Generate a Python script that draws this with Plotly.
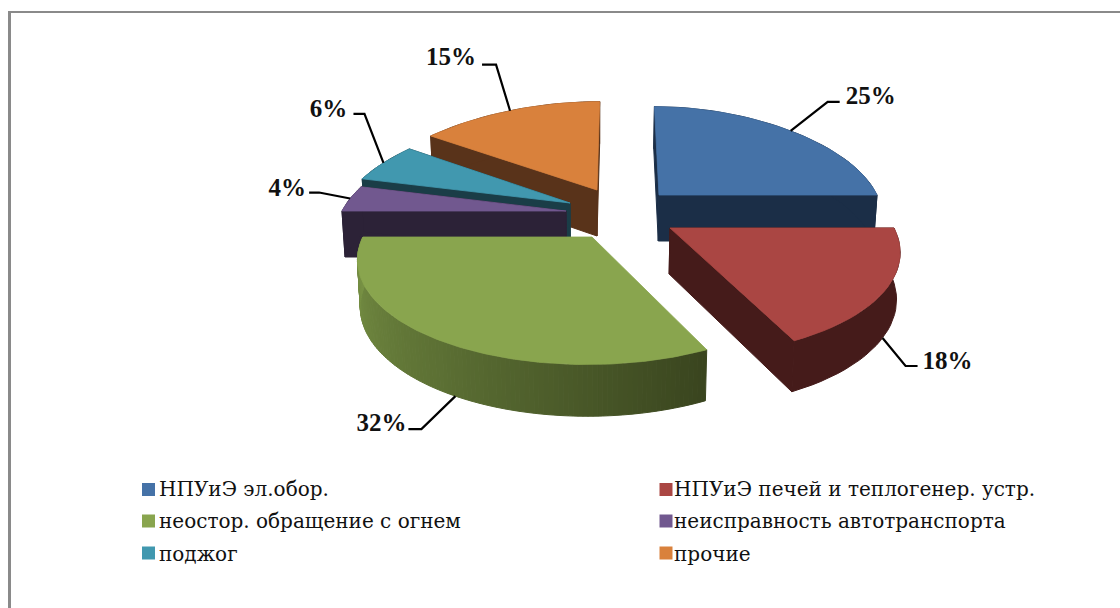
import math
import plotly.graph_objects as go

# ---- data ----
CATEGORIES = ["НПУиЭ эл.обор.", "НПУиЭ печей и теплогенер. устр.",
              "неостор. обращение с огнем", "неисправность автотранспорта",
              "поджог", "прочие"]
SHARES = [25, 18, 32, 4, 6, 15]

# ---- style ----
TOP_COLORS = ["#4572a7", "#aa4643", "#89a54e", "#71588f", "#4198af", "#d9813c"]
WALL_COLORS = ["#1b2e47", "#451b1a", None, "#2c2237", "#1a3d47", "#59331a"]
GREEN_STOPS = [(0.0, (58, 69, 31)), (0.5, (92, 112, 52)), (1.0, (122, 148, 70))]
APEX = [(659, 195), (670, 228), (592, 237), (566, 211), (570, 203), (597, 190)]
RX = [218, 224, 229, 224, 227, 232]
RY, K, VX, LEAN, DEPTH = 102, 0.2, 620, 0.7, 46
DRAW_ORDER = [5, 4, 3, 0, 1, 2]
LEADER_ON_WALL = [False, True, True, False, False, False]
LEADER_SHIFT = [0, 0, -3.5, 0, 0, 0]
LEADER_OFFSETS = [  # elbow, end, label centre, relative to the anchor on the slice
    ((37, -29), (49, -29), (80, -33.5)),
    ((23, 28), (35, 28), (65, 24.5)),
    ((-34, 33), (-47, 33), (-74, 28.5)),
    ((-31, -6), (-41, -6), (-63, -8.5)),
    ((-19, -49), (-30, -49), (-55, -52.5)),
    ((-14, -46), (-28, -46), (-59, -51.5)),
]
LEGEND_SWATCH_X = [148.5, 666]
LEGEND_SWATCH_Y = [489.5, 521, 553]
LEGEND_TEXT_X = [159, 674]
LEGEND_TEXT_Y = [490.5, 523, 555.5]
LABEL_FONT = dict(family="Liberation Serif", size=25, color="#111111", weight="bold")
LEGEND_FONT = dict(family="DejaVu Serif", size=20, color="#111111")


def project(i, r, theta_deg, bottom=False):
    t = math.radians(theta_deg)
    ax, ay = APEX[i]
    c = math.cos(t)
    w = 1 + K * r * c
    ry = RY + 4 * max(0.0, c) ** 3
    x = ax + RX[i] * r * math.sin(t) / w + (ax - VX) * (1 / w - 1) * LEAN
    y = ay - ry * r * c / w
    if bottom:
        y += DEPTH * (1 + 0.5 * (1 / w - 1))
        x = 597 + (x - 597) * 0.988
    return x, y


def lerp_green(t):
    for (a, ca), (b, cb) in zip(GREEN_STOPS, GREEN_STOPS[1:]):
        if t <= b:
            f = (t - a) / (b - a)
            return "rgb(%d,%d,%d)" % tuple(ca[j] + (cb[j] - ca[j]) * f for j in range(3))
    return "rgb(%d,%d,%d)" % GREEN_STOPS[-1][1]


def poly(pts, color, lw=1.0):
    return go.Scatter(x=[p[0] for p in pts], y=[p[1] for p in pts], mode="lines", fill="toself",
                      fillcolor=color, line=dict(color=color, width=lw),
                      hoverinfo="skip", showlegend=False)


starts, acc = [], 0
for s in SHARES:
    starts.append(acc * 3.6)
    acc += s

fig = go.Figure()
for i in DRAW_ORDER:
    a0, a1 = starts[i], starts[i] + SHARES[i] * 3.6
    step = 1.0 if WALL_COLORS[i] is None else 2.5
    n = max(8, int((a1 - a0) / step))
    angles = [a0 + (a1 - a0) * j / n for j in range(n + 1)]
    top = [project(i, 1, a) for a in angles]
    bot = [project(i, 1, a, True) for a in angles]
    if WALL_COLORS[i] is None:
        for j in range(n):
            fig.add_trace(poly([top[j], top[j + 1], bot[j + 1], bot[j], top[j]],
                               lerp_green(j / (n - 1)), 1.0))
    else:
        apex_t, apex_b = project(i, 0, a0), project(i, 0, a0, True)
        for pts in ([apex_t, top[0], bot[0], apex_b, apex_t],
                    [apex_t, top[-1], bot[-1], apex_b, apex_t],
                    top + bot[::-1] + [top[0]]):
            fig.add_trace(poly(pts, WALL_COLORS[i]))
    apex = project(i, 0, a0)
    fig.add_trace(poly([apex] + top + [apex], TOP_COLORS[i], 0.8))

# leaders and percentage labels
for i, share in enumerate(SHARES):
    mid = starts[i] + share * 1.8 + LEADER_SHIFT[i]
    ax, ay = project(i, 1, mid, LEADER_ON_WALL[i])
    el, en, lb = LEADER_OFFSETS[i]
    fig.add_trace(go.Scatter(x=[ax, ax + el[0], ax + en[0]], y=[ay, ay + el[1], ay + en[1]],
                             mode="lines", line=dict(color="#000000", width=2.2),
                             hoverinfo="skip", showlegend=False))
    fig.add_trace(go.Scatter(x=[ax + lb[0]], y=[ay + lb[1]], mode="text", text=[f"{share}%"],
                             textposition="middle center", textfont=LABEL_FONT,
                             hoverinfo="skip", showlegend=False))

# legend entries: two columns, three rows, filled across
for k, (name, color) in enumerate(zip(CATEGORIES, TOP_COLORS)):
    fig.add_trace(go.Scatter(x=[LEGEND_SWATCH_X[k % 2]], y=[LEGEND_SWATCH_Y[k // 2]], mode="markers",
                             name=name, marker=dict(symbol="square", size=13, color=color),
                             hoverinfo="skip", showlegend=False))
    fig.add_trace(go.Scatter(x=[LEGEND_TEXT_X[k % 2]], y=[LEGEND_TEXT_Y[k // 2]], mode="text",
                             name=name, text=[name], textposition="middle right",
                             textfont=LEGEND_FONT, hoverinfo="skip", showlegend=False))

fig.update_layout(
    width=1120, height=608, margin=dict(l=0, r=0, t=0, b=0, pad=0),
    paper_bgcolor="white", plot_bgcolor="white", showlegend=False,
    xaxis=dict(range=[0, 1120], visible=False, fixedrange=True),
    yaxis=dict(range=[608, 0], visible=False, fixedrange=True),
    shapes=[
        dict(type="line", xref="paper", yref="paper", x0=8 / 1120, x1=1, y0=1 - 12 / 608, y1=1 - 12 / 608,
             line=dict(color="#8a8a8a", width=2)),
        dict(type="line", xref="paper", yref="paper", x0=9.5 / 1120, x1=9.5 / 1120, y0=0, y1=1 - 11 / 608,
             line=dict(color="#8a8a8a", width=3)),
    ],
)
fig.write_html("out.html", config=dict(displayModeBar=False),
               post_script="document.body.style.margin='0';document.documentElement.style.overflow='hidden';")
